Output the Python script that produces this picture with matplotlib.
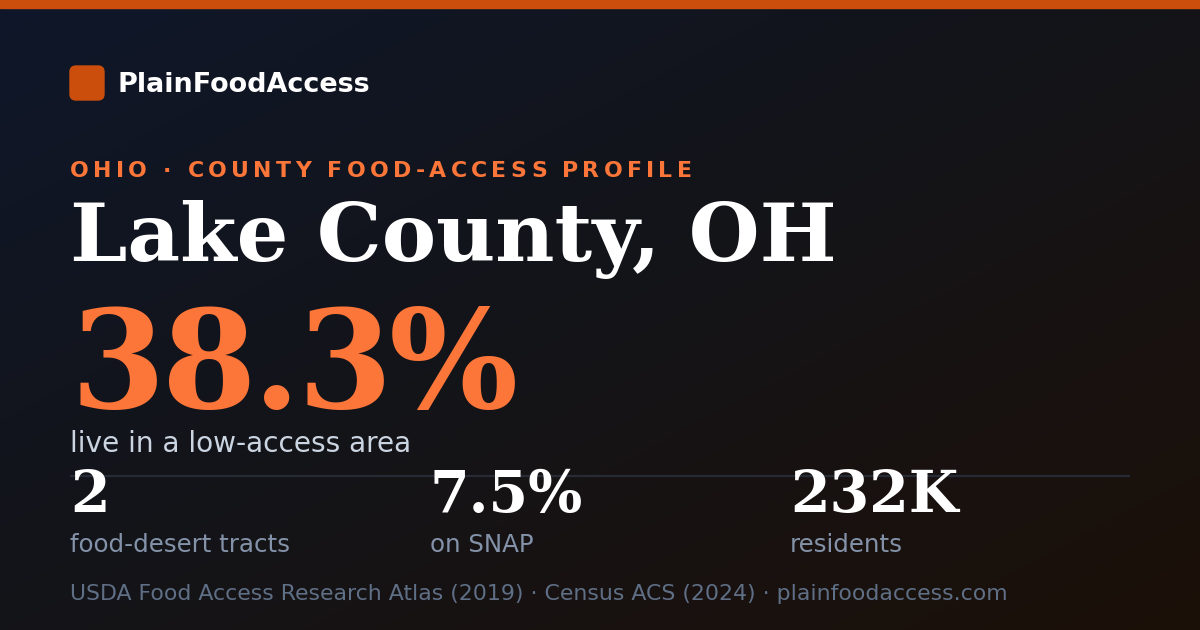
import numpy as np
import matplotlib
matplotlib.use("Agg")
from matplotlib import pyplot as plt
from matplotlib.patches import FancyBboxPatch, Rectangle
from matplotlib.colors import to_rgb

# Card content
brand = "PlainFoodAccess"
kicker = "OHIO · COUNTY FOOD-ACCESS PROFILE"
county = "Lake County, OH"
headline_value = "38.3%"
headline_label = "live in a low-access area"
stat_values = ["2", "7.5%", "232K"]
stat_labels = ["food-desert tracts", "on SNAP", "residents"]
footer = "USDA Food Access Research Atlas (2019) · Census ACS (2024) · plainfoodaccess.com"

W, H = 1200, 630
PX = 0.72  # px -> pt at dpi 100

ORANGE = "#cc4e0c"
ORANGE_TXT = "#fd7639"
SANS = "DejaVu Sans"
SERIF = "DejaVu Serif"


def gradient_bg(ax):
    # diagonal gradient navy -> near black -> dark brown
    c0 = np.array(to_rgb("#0f172a"))
    c1 = np.array(to_rgb("#141418"))
    c2 = np.array(to_rgb("#1c1008"))
    yy, xx = np.mgrid[0:H, 0:W]
    t = (xx / W + yy / H) / 2.0
    t = t[..., None]
    img = np.where(t < 0.5, c0 + (c1 - c0) * (t / 0.5), c1 + (c2 - c1) * ((t - 0.5) / 0.5))
    ax.imshow(img, extent=(0, W, H, 0), zorder=0, interpolation="bilinear")


def spaced_text(ax, renderer, x, y, s, size, spacing, **kw):
    # matplotlib has no letter-spacing, so place each glyph by hand
    probe = ax.text(0, 0, "|", fontsize=size, **kw)
    bar_w = probe.get_window_extent(renderer).width
    probe.remove()
    for i, ch in enumerate(s):
        if i == 0:
            off = 0
        else:
            t = ax.text(0, 0, s[:i] + "|", fontsize=size, **kw)
            off = t.get_window_extent(renderer).width - bar_w
            t.remove()
        ax.text(x + off + i * spacing, y, ch, fontsize=size, va="baseline", ha="left", **kw)


fig = plt.figure(figsize=(12, 6.3), dpi=100)
ax = fig.add_axes([0, 0, 1, 1])
ax.set_xlim(0, W)
ax.set_ylim(H, 0)
ax.axis("off")
renderer = fig.canvas.get_renderer()

gradient_bg(ax)

# top accent bar
ax.add_patch(Rectangle((0, 0), W, 8, color=ORANGE, zorder=2))

# logo + brand
ax.add_patch(FancyBboxPatch((70, 66), 34, 34, boxstyle="round,pad=0,rounding_size=6",
                            color=ORANGE, zorder=2))
ax.text(118, 92, brand, fontsize=27 * PX, fontweight="bold", family=SANS,
        color="white", va="baseline", ha="left")

# kicker line
spaced_text(ax, renderer, 70, 177, kicker, 22 * PX, 4.3,
            fontweight="bold", family=SANS, color=ORANGE_TXT)

# county name
ax.text(70, 261, county, fontsize=81.5 * PX, fontweight="bold", family=SERIF,
        color="white", va="baseline", ha="left")

# headline figure (tight tracking)
spaced_text(ax, renderer, 70, 408, headline_value, 136 * PX, -3,
            fontweight="bold", family=SERIF, color=ORANGE_TXT)
ax.text(70, 452, headline_label, fontsize=28 * PX, family=SANS,
        color="#cbd5e1", va="baseline", ha="left")

# divider
ax.plot([70, 1130], [475.5, 475.5], color="#262b35", lw=1.6, zorder=1,
        solid_capstyle="butt")

# three stats
for i, (v, lab) in enumerate(zip(stat_values, stat_labels)):
    x = 70 + i * 360
    ax.text(x, 512, v, fontsize=57 * PX, fontweight="bold", family=SERIF,
            color="white", va="baseline", ha="left", zorder=3)
    ax.text(x, 552, lab, fontsize=24.5 * PX, family=SANS,
            color="#8392a8", va="baseline", ha="left")

# sources
ax.text(70, 600, footer, fontsize=22 * PX, family=SANS,
        color="#5f6f86", va="baseline", ha="left")

fig.savefig("out.png", dpi=100)
